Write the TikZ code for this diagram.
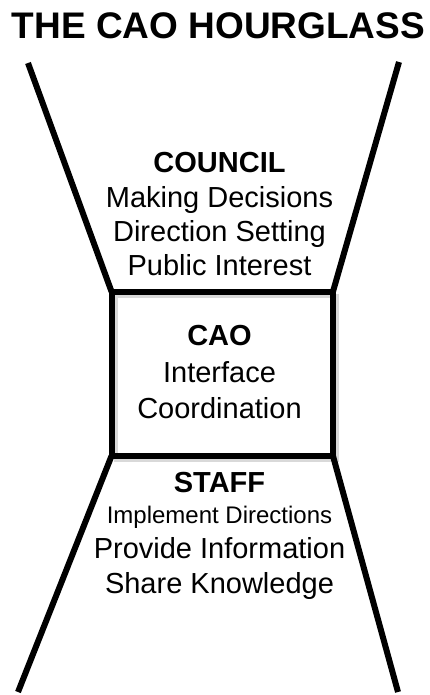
\documentclass[tikz,border=0pt]{standalone}
\usepackage{fontspec}
\setmainfont{Liberation Sans}

\begin{document}
\begin{tikzpicture}[x=1pt,y=-1pt,
  glass/.style={line width=6pt},
  shade/.style={line width=4pt,gray!30},
  txt/.style={anchor=base,inner sep=0pt,font=\fontsize{29}{35}\selectfont}]
\useasboundingbox (0,0) rectangle (430,695);
\def\boxCAO{(111.5,291.5) rectangle (333,456)}
\coordinate (tl) at (111.5,291.5);
\coordinate (tr) at (333,291.5);
\coordinate (bl) at (111.5,456);
\coordinate (br) at (333,456);
% shadow of the frame
\draw[shade,xshift=4pt,yshift=-4pt] \boxCAO;
\draw[glass] \boxCAO;
% the glass
\draw[glass] (28,63) -- (tl);
\draw[glass] (399,62) -- (tr);
\draw[glass] (bl) -- (18,692);
\draw[glass] (br) -- (398,692);
\node[anchor=base,inner sep=0pt,font=\fontsize{37}{44}\selectfont\bfseries] (title) at (218.5,39) {THE CAO HOURGLASS};
% council
\node[txt] (council) at (219.5,172) {\textbf{COUNCIL}};
\node[txt] (decide) at (219.5,207) {Making Decisions};
\node[txt] (direct) at (219.5,241) {Direction Setting};
\node[txt] (public) at (219.5,275) {Public Interest};
% cao
\node[txt] (cao) at (219.5,345) {\textbf{CAO}};
\node[txt] (iface) at (219.5,382) {Interface};
\node[txt] (coord) at (219.5,418) {Coordination};
% staff
\node[txt] (staff) at (219.5,492) {\textbf{STAFF}};
\node[txt,font=\fontsize{24}{29}\selectfont] (impl) at (219.5,523) {Implement Directions};
\node[txt] (info) at (219.5,558) {Provide Information};
\node[txt] (share) at (219.5,593) {Share Knowledge};
%\node at (219.5,650) {};
\end{tikzpicture}
\end{document}
